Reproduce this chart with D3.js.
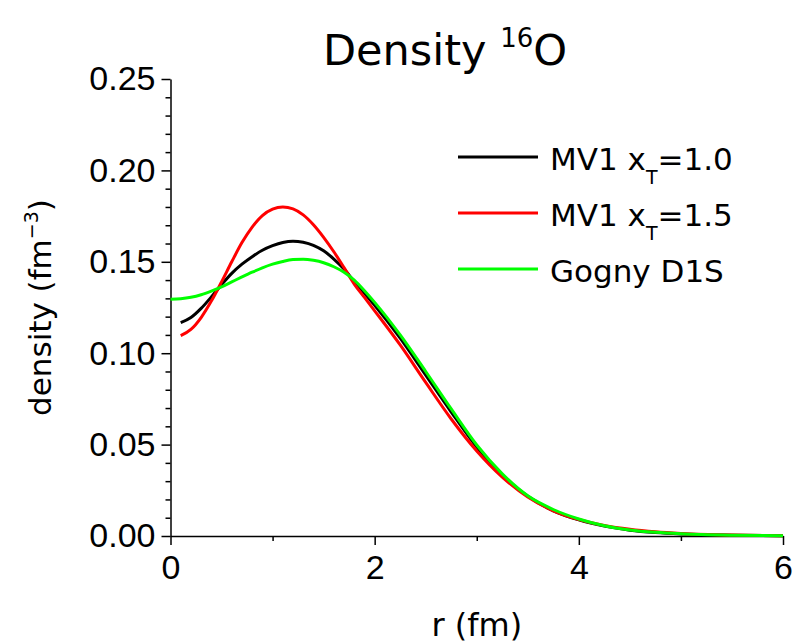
<!DOCTYPE html>
<html>
<head>
<meta charset="utf-8">
<script src="https://cdn.jsdelivr.net/npm/d3@7"></script>
<style>
  body { margin: 0; background: #fff; }
  svg { display: block; }
  .tick-label { font-family: "Liberation Sans", Arial, sans-serif; font-size: 34px; fill: #000; }
  .lbl { font-family: "DejaVu Sans", sans-serif; fill: #000; }
</style>
</head>
<body>
<figure style="margin:0"></figure>
<script>
const width = 797
const height = 643

// radius grid (fm)
const rValues = [0, 0.1, 0.2, 0.3, 0.4, 0.5, 0.6, 0.7, 0.8, 0.9, 1.0, 1.1, 1.2, 1.3, 1.4, 1.5, 1.6, 1.7, 1.8, 1.9, 2.0,
  2.25, 2.5, 2.75, 3.0, 3.25, 3.5, 3.75, 4.0, 4.25, 4.5, 4.75, 5.0, 5.5, 6.0]

// densities (fm^-3)
const mv1x10 = [null, 0.1167, 0.1195, 0.1245, 0.1308, 0.1375, 0.1437, 0.1487, 0.1528, 0.1563, 0.1588, 0.1606, 0.1613, 0.1607, 0.1590, 0.1560, 0.1515, 0.1460, 0.1392, 0.1328, 0.1262,
  0.1082, 0.0880, 0.0678, 0.0487, 0.0333, 0.0217, 0.0138, 0.0088, 0.0054, 0.0032, 0.0019, 0.0011, 0.0004, 0.0001]
const mv1x15 = [null, 0.1096, 0.1130, 0.1195, 0.1285, 0.1390, 0.1500, 0.1605, 0.1690, 0.1753, 0.1788, 0.1800, 0.1790, 0.1757, 0.1703, 0.1634, 0.1555, 0.1468, 0.1378, 0.1305, 0.1232,
  0.1045, 0.0840, 0.0640, 0.0465, 0.0322, 0.0213, 0.0138, 0.0090, 0.0058, 0.0037, 0.0023, 0.0014, 0.0005, 0.0002]
const gognyD1S = [0.1295, 0.1298, 0.1306, 0.1320, 0.1340, 0.1363, 0.1390, 0.1417, 0.1443, 0.1467, 0.1487, 0.1502, 0.1512, 0.1514, 0.1508, 0.1495, 0.1473, 0.1443, 0.1400, 0.1342, 0.1278,
  0.1100, 0.0900, 0.0695, 0.0498, 0.0340, 0.0220, 0.0145, 0.0093, 0.0056, 0.0033, 0.0020, 0.0012, 0.0004, 0.0001]

const seriesNames = ['MV1 x_T=1.0', 'MV1 x_T=1.5', 'Gogny D1S']
const seriesColors = ['#000000', '#ff0000', '#00ff00']
const xMajorTicks = [0, 2, 4, 6]
const xMinorTicks = [1, 3, 5]
const yMajorTicks = [0, 0.05, 0.10, 0.15, 0.20, 0.25]

const svg = d3.select('figure').append('svg')
  .attr('width', width)
  .attr('height', height)

const x = d3.scaleLinear().domain([0, 6]).range([170.5, 783])
const y = d3.scaleLinear().domain([0, 0.25]).range([536, 79])

// y axis, major + minor ticks pointing left
const yMinor = d3.range(0, 0.2501, 0.01).filter(v => !yMajorTicks.some(m => Math.abs(m - v) < 1e-6))
svg.append('g')
  .attr('transform', `translate(${x(0)},0)`)
  .call(d3.axisLeft(y).tickValues(yMinor).tickSize(5).tickFormat(''))
  .call(g => g.select('.domain').remove())
  .selectAll('line').attr('stroke', '#000').attr('stroke-width', 1.5)
const yAxis = svg.append('g')
  .attr('transform', `translate(${x(0)},0)`)
  .call(d3.axisLeft(y).tickValues(yMajorTicks).tickSize(9).tickSizeOuter(0).tickPadding(6).tickFormat(d3.format('.2f')))
yAxis.select('.domain').attr('stroke', '#000').attr('stroke-width', 1.5)
yAxis.selectAll('line').attr('stroke', '#000').attr('stroke-width', 1.5)
yAxis.selectAll('text').attr('class', 'tick-label').attr('font-family', null).attr('font-size', null)

// x axis, major + minor ticks pointing down
svg.append('g')
  .attr('transform', `translate(0,${y(0)})`)
  .call(d3.axisBottom(x).tickValues(xMinorTicks).tickSize(5).tickFormat(''))
  .call(g => g.select('.domain').remove())
  .selectAll('line').attr('stroke', '#000').attr('stroke-width', 1.5)
const xAxis = svg.append('g')
  .attr('transform', `translate(0,${y(0)})`)
  .call(d3.axisBottom(x).tickValues(xMajorTicks).tickSize(9).tickSizeOuter(0).tickPadding(10).tickFormat(d3.format('d')))
xAxis.select('.domain').attr('stroke', '#000').attr('stroke-width', 1.5)
xAxis.selectAll('line').attr('stroke', '#000').attr('stroke-width', 1.5)
xAxis.selectAll('text').attr('class', 'tick-label').attr('font-family', null).attr('font-size', null)

// curves: black, red, then green on top
const allSeries = [mv1x10, mv1x15, gognyD1S]
const line = d3.line()
  .defined(d => d[1] !== null)
  .x(d => x(d[0]))
  .y(d => y(d[1]))
  .curve(d3.curveMonotoneX)

allSeries.forEach((vals, i) => {
  svg.append('path')
    .datum(rValues.map((r, j) => [r, vals[j]]))
    .attr('d', line)
    .attr('fill', 'none')
    .attr('stroke', seriesColors[i])
    .attr('stroke-width', 3)
    .attr('stroke-linejoin', 'round')
})

// legend
const legend = svg.append('g')
seriesNames.forEach((name, i) => {
  const ly = 157 + i * 56
  legend.append('line')
    .attr('x1', 458).attr('x2', 538)
    .attr('y1', ly).attr('y2', ly)
    .attr('stroke', seriesColors[i])
    .attr('stroke-width', 3)
  const t = legend.append('text')
    .attr('class', 'lbl')
    .attr('x', 550).attr('y', ly + 13)
    .attr('font-size', 31)
  if (name.includes('_T')) {
    const parts = name.split('_T')
    t.append('tspan').text(parts[0])
    t.append('tspan').attr('font-size', 19).attr('dy', 14).text('T')
    t.append('tspan').attr('dy', -14).text(parts[1])
  } else {
    t.text(name)
  }
})

// title
const title = svg.append('text')
  .attr('class', 'lbl')
  .attr('x', 323).attr('y', 65)
  .attr('font-size', 43)
title.append('tspan').text('Density ')
title.append('tspan').attr('font-size', 26).attr('dy', -18).text('16')
title.append('tspan').attr('dy', 18).text('O')

// axis titles
svg.append('text')
  .attr('class', 'lbl')
  .attr('x', (x(0) + x(6)) / 2).attr('y', 636)
  .attr('text-anchor', 'middle')
  .attr('font-size', 32)
  .text('r (fm)')

const yTitle = svg.append('text')
  .attr('class', 'lbl')
  .attr('transform', `translate(51,${(y(0) + y(0.25)) / 2}) rotate(-90)`)
  .attr('text-anchor', 'middle')
  .attr('font-size', 31)
yTitle.append('tspan').text('density (fm')
yTitle.append('tspan').attr('font-size', 19).attr('dy', -13).text('−3')
yTitle.append('tspan').attr('dy', 13).text(')')
</script>
</body>
</html>
